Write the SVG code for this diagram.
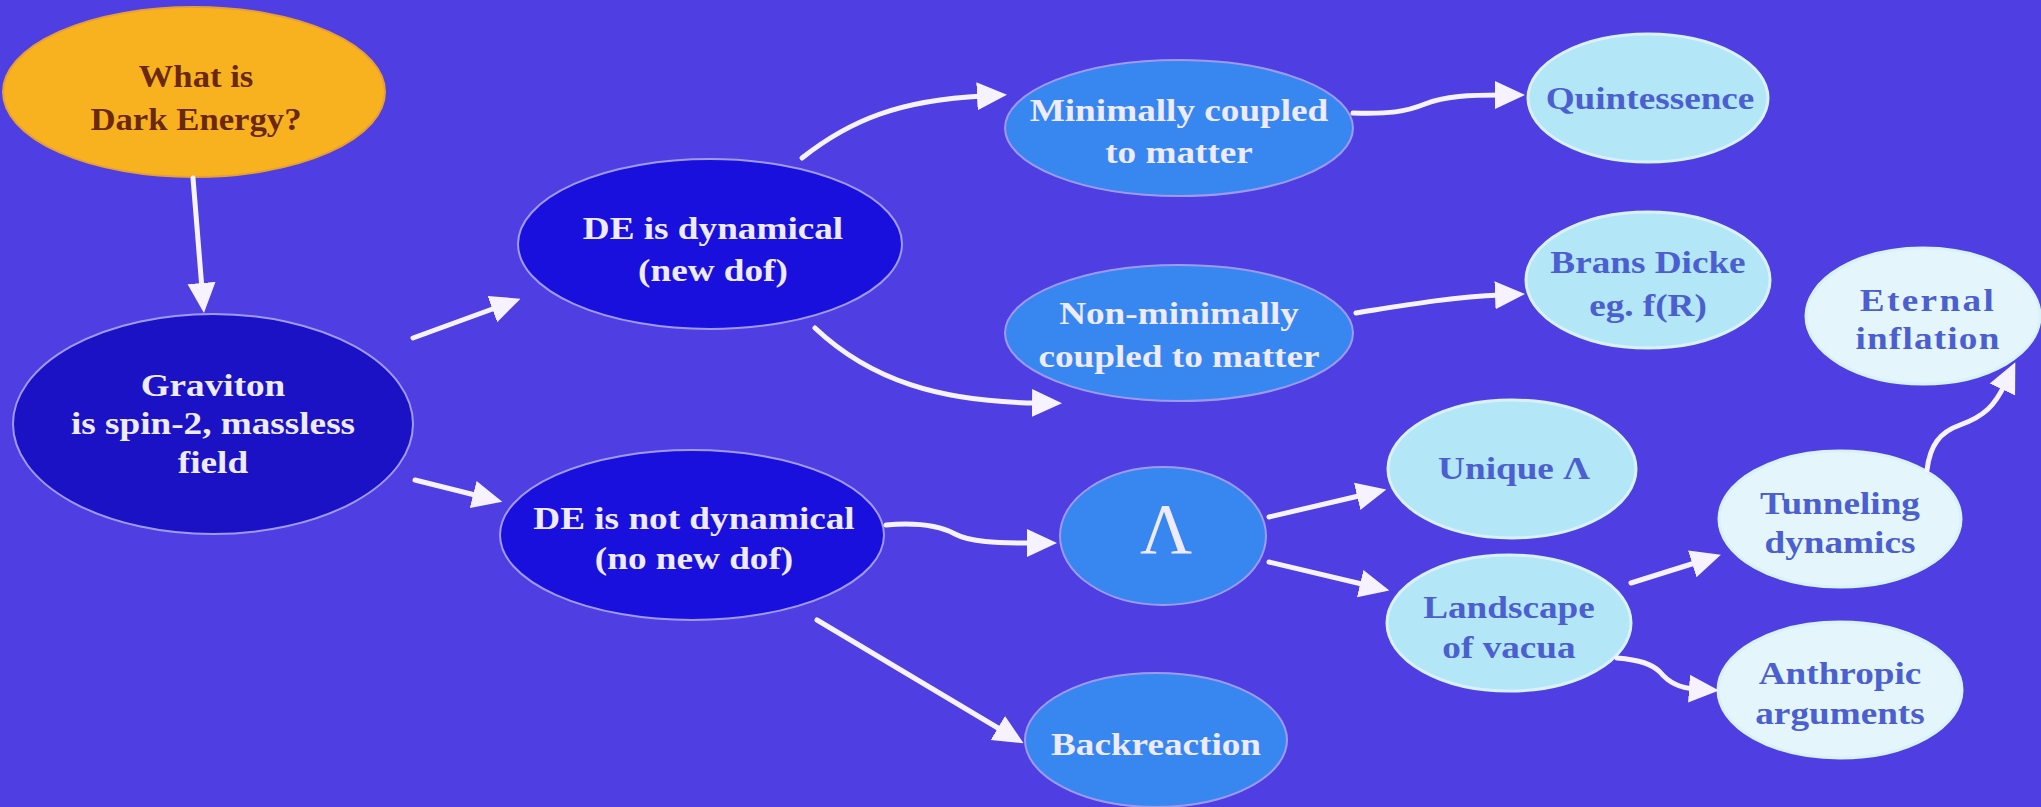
<svg xmlns="http://www.w3.org/2000/svg" width="2041" height="807" viewBox="0 0 2041 807">
<style>
.t{font-family:"Liberation Serif","Times New Roman",serif;font-weight:bold;font-size:31px;text-anchor:middle;dominant-baseline:central;transform-box:fill-box;transform-origin:center;transform:scaleX(1.2)}
.w{fill:#EFEBFF}
.b{fill:#4C5FD0}
.o{fill:#6A2810;transform:scaleX(1.12)}
.e{stroke:#9E9AF6;stroke-width:2}
.l{stroke:#D8F2FA;stroke-width:3}
.c{fill:none;stroke:#F6F2FF;stroke-width:5;stroke-linecap:round;marker-end:url(#ah)}
</style>
<defs>
<marker id="ah" viewBox="0 0 30 30" refX="6" refY="15" markerWidth="30" markerHeight="30" markerUnits="userSpaceOnUse" orient="auto">
<path d="M0,1 L30,15 L0,29 z" fill="#F6F2FF"/>
</marker>
</defs>
<rect width="2041" height="807" fill="#4F3EE2"/>
<g id="n-what">
<ellipse cx="194" cy="92" rx="191" ry="85" fill="#F8B21F" stroke="#E7A030" stroke-width="2"/>
<text class="t o" x="196" y="77">What is</text>
<text class="t o" x="196" y="120">Dark Energy?</text>
</g>
<g id="n-graviton">
<ellipse cx="213" cy="424" rx="200" ry="110" fill="#1A12C4" class="e"/>
<text class="t w" x="213" y="385">Graviton</text>
<text class="t w" x="213" y="423">is spin-2, massless</text>
<text class="t w" x="213" y="462">field</text>
</g>
<g id="n-dyn">
<ellipse cx="710" cy="244" rx="192" ry="85" fill="#1A10DE" class="e"/>
<text class="t w" x="713" y="228">DE is dynamical</text>
<text class="t w" x="713" y="270">(new dof)</text>
</g>
<g id="n-notdyn">
<ellipse cx="692" cy="535" rx="192" ry="85" fill="#1A10DE" class="e"/>
<text class="t w" x="694" y="518">DE is not dynamical</text>
<text class="t w" x="694" y="558">(no new dof)</text>
</g>
<g id="n-min">
<ellipse cx="1179" cy="128" rx="174" ry="68" fill="#3887F0" class="e"/>
<text class="t w" x="1179" y="110">Minimally coupled</text>
<text class="t w" x="1179" y="152">to matter</text>
</g>
<g id="n-nonmin">
<ellipse cx="1179" cy="333" rx="174" ry="68" fill="#3887F0" class="e"/>
<text class="t w" x="1179" y="313">Non-minimally</text>
<text class="t w" x="1179" y="356">coupled to matter</text>
</g>
<g id="n-lambda">
<ellipse cx="1163" cy="536" rx="103" ry="69" fill="#3887F0" class="e"/>
<text class="t w" x="1166" y="529" style="font-size:72px;font-weight:normal;transform:none">Λ</text>
</g>
<g id="n-back">
<ellipse cx="1156" cy="740" rx="131" ry="67" fill="#3887F0" class="e"/>
<text class="t w" x="1156" y="744">Backreaction</text>
</g>
<g id="n-quint">
<ellipse cx="1648" cy="98" rx="120" ry="64" fill="#B3E6F6" class="l"/>
<text class="t b" x="1650" y="98">Quintessence</text>
</g>
<g id="n-brans">
<ellipse cx="1648" cy="280" rx="122" ry="68" fill="#B3E6F6" class="l"/>
<text class="t b" x="1648" y="262">Brans Dicke</text>
<text class="t b" x="1648" y="305">eg. f(R)</text>
</g>
<g id="n-eternal">
<ellipse cx="1923" cy="316" rx="117" ry="68" fill="#E4F6FB" class="l"/>
<text class="t b" x="1928" y="300" style="letter-spacing:2px">Eternal</text>
<text class="t b" x="1928" y="338" style="letter-spacing:1px">inflation</text>
</g>
<g id="n-unique">
<ellipse cx="1512" cy="469" rx="124" ry="69" fill="#B3E6F6" class="l"/>
<text class="t b" x="1514" y="468">Unique Λ</text>
</g>
<g id="n-landscape">
<ellipse cx="1509" cy="623" rx="122" ry="68" fill="#B3E6F6" class="l"/>
<text class="t b" x="1509" y="607">Landscape</text>
<text class="t b" x="1509" y="647">of vacua</text>
</g>
<g id="n-tunnel">
<ellipse cx="1840" cy="519" rx="121" ry="68" fill="#E4F6FB" class="l"/>
<text class="t b" x="1840" y="503">Tunneling</text>
<text class="t b" x="1840" y="542">dynamics</text>
</g>
<g id="n-anthropic">
<ellipse cx="1840" cy="690" rx="122" ry="68" fill="#E4F6FB" class="l"/>
<text class="t b" x="1840" y="673">Anthropic</text>
<text class="t b" x="1840" y="713">arguments</text>
</g>
<g id="connectors">
<path class="c" d="M193,178 L202,289"/>
<path class="c" d="M413,338 L498,307"/>
<path class="c" d="M415,480 L479,496"/>
<path class="c" d="M802,158 C850,120 900,100 983,96"/>
<path class="c" d="M815,328 C870,380 940,402 1038,403"/>
<path class="c" d="M1353,113 C1390,114 1405,112 1425,104 C1445,96 1470,95 1501,95"/>
<path class="c" d="M1356,313 C1400,306 1450,297 1501,295"/>
<path class="c" d="M886,525 C920,522 940,526 955,534 C970,542 995,543 1033,543"/>
<path class="c" d="M817,620 L1003,731"/>
<path class="c" d="M1269,517 L1363,495"/>
<path class="c" d="M1269,562 L1366,585"/>
<path class="c" d="M1631,583 L1698,562"/>
<path class="c" d="M1617,658 C1640,660 1652,664 1660,672 C1668,682 1680,688 1695,689"/>
<path class="c" d="M1927,470 C1930,445 1940,432 1960,425 C1985,416 1995,405 2005,384"/>
</g>
</svg>
